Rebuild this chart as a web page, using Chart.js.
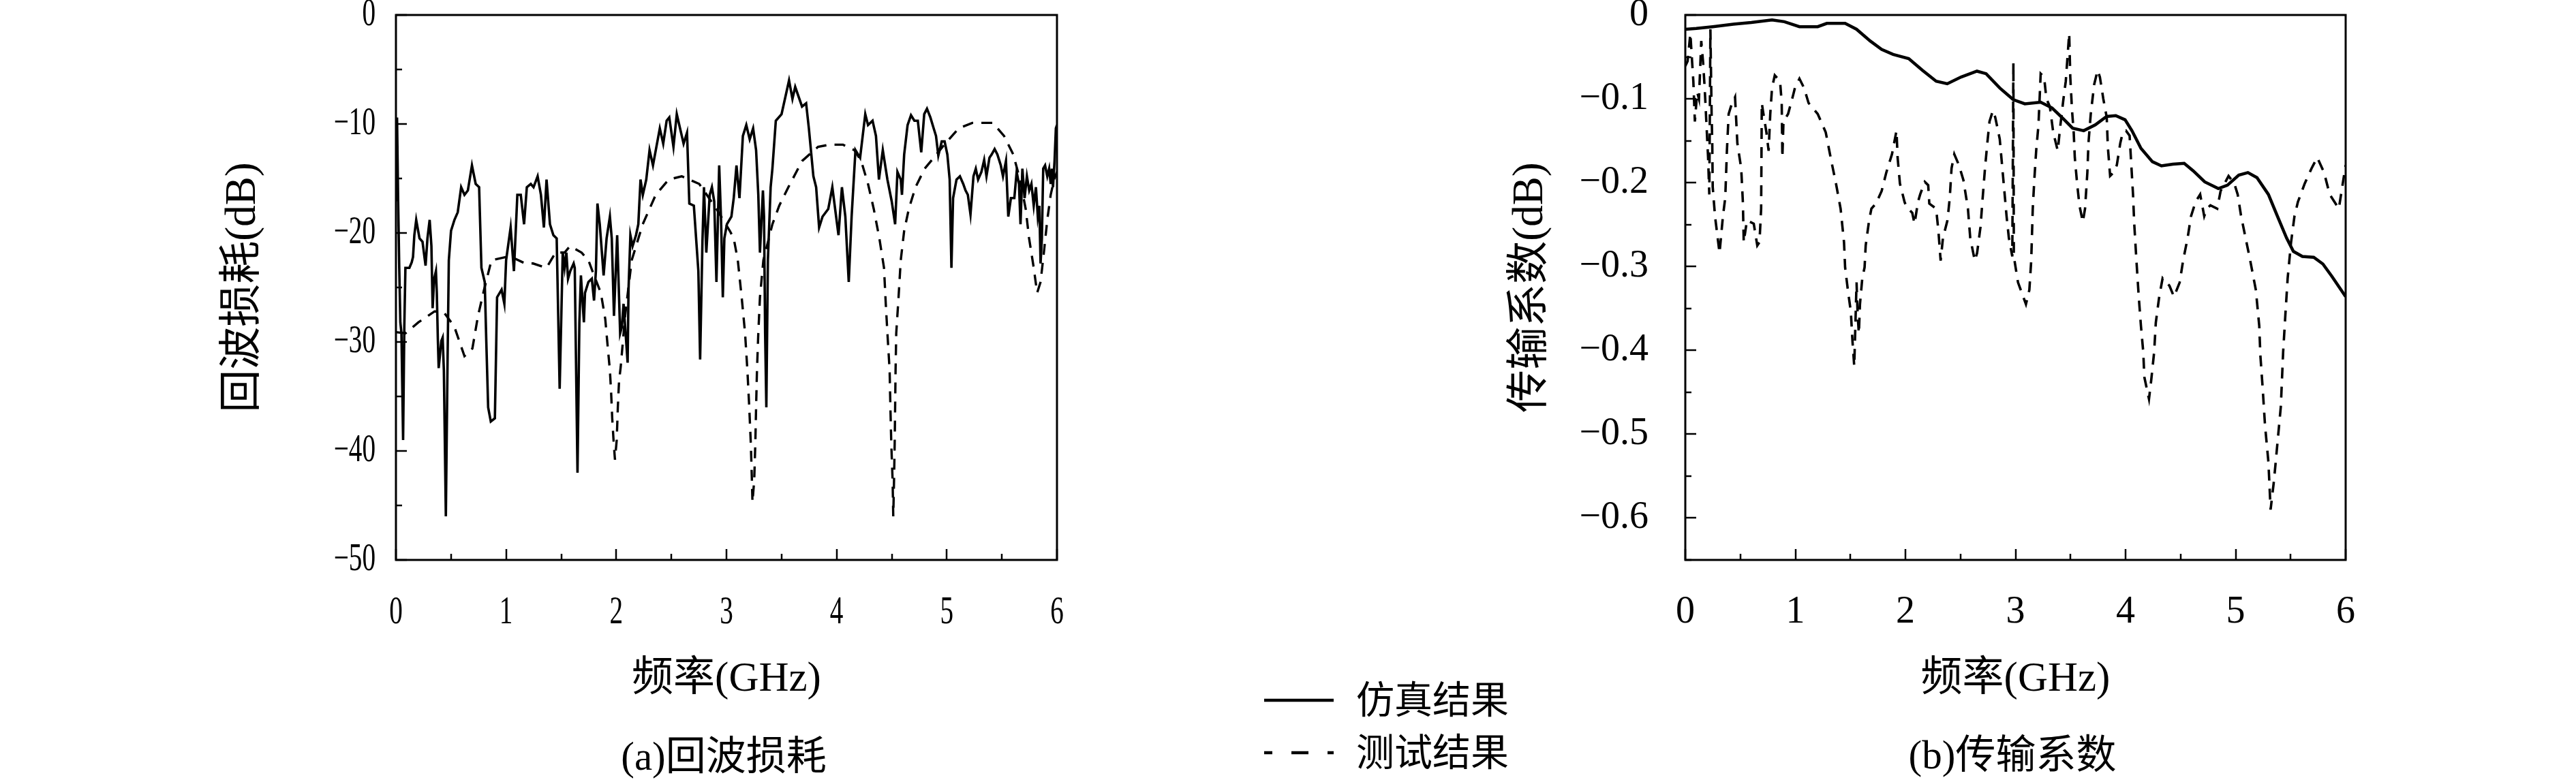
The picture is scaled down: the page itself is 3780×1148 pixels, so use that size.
<!DOCTYPE html>
<html><head><meta charset="utf-8">
<script src="https://cdn.jsdelivr.net/npm/chart.js@4.4.1/dist/chart.umd.min.js"></script>
<style>
html,body{margin:0;padding:0;background:#fff;}
body{width:3780px;height:1148px;position:relative;overflow:hidden;font-family:'Liberation Serif','Noto Sans CJK SC',serif;color:#000;}
.box{position:absolute;}
.txt{position:absolute;white-space:nowrap;font-size:59px;line-height:70px;height:70px;}
.cap{text-align:center;width:600px;}
</style></head><body>
<div class="box" style="left:0;top:0;width:1700px;height:1148px"><canvas id="c1" width="1700" height="1148"></canvas></div>
<div class="box" style="left:2050px;top:0;width:1550px;height:1148px"><canvas id="c2" width="1550" height="1148"></canvas></div>
<div class="txt cap" id="capA" style="left:762px;top:1075px"></div>
<div class="txt cap" id="capB" style="left:2653px;top:1073px"></div>
<svg class="box" style="left:1855px;top:1018px" width="104" height="20"><line x1="0" y1="10" x2="102" y2="10" stroke="#000" stroke-width="4.5"/></svg>
<svg class="box" style="left:1855px;top:1095px" width="104" height="20"><line x1="0" y1="10" x2="102" y2="10" stroke="#000" stroke-width="4.5" stroke-dasharray="25 28" stroke-dashoffset="13"/></svg>
<div class="txt" id="leg1" style="left:1990px;top:993px;font-size:56px"></div>
<div class="txt" id="leg2" style="left:1990px;top:1070px;font-size:56px"></div>
<script>
// ---------- data ----------
const legendLabels = ['仿真结果', '测试结果'];
const xTitle = '频率(GHz)';
const captions = ['(a)回波损耗', '(b)传输系数'];
const yTitles = ['回波损耗(dB)', '传输系数(dB)'];
const xTickLabels = ['0', '1', '2', '3', '4', '5', '6'];
const yTickLabelsA = ['0', '−10', '−20', '−30', '−40', '−50'];
const yTickLabelsB = ['0', '−0.1', '−0.2', '−0.3', '−0.4', '−0.5', '−0.6'];

// (a) return loss, simulated [GHz, dB]
const s11Simulated = [
[0,-17.1],[0.01,-9.4],[0.02,-17.1],[0.03,-23.2],[0.04,-28.2],[0.05,-29.2],[0.065,-39.0],[0.076,-28.6],[0.086,-23.2],[0.122,-23.2],
[0.143,-22.7],[0.155,-22.2],[0.167,-20.2],[0.184,-18.8],[0.214,-20.5],[0.241,-20.8],[0.269,-23.0],[0.286,-20.5],[0.306,-18.8],[0.322,-21.2],
[0.333,-26.9],[0.347,-24.2],[0.363,-23.5],[0.371,-25.5],[0.38,-29.6],[0.388,-32.4],[0.412,-29.9],[0.424,-29.6],[0.435,-32.6],[0.453,-46.0],
[0.469,-31.3],[0.48,-22.5],[0.5,-19.8],[0.531,-18.8],[0.561,-18.1],[0.592,-15.8],[0.622,-16.5],[0.653,-16.1],[0.69,-13.8],[0.724,-15.5],
[0.755,-15.8],[0.776,-23.2],[0.806,-24.5],[0.82,-29.9],[0.837,-36.0],[0.861,-37.3],[0.898,-37.0],[0.918,-25.9],[0.959,-25.2],[0.984,-26.5],
[1.0,-22.5],[1.041,-19.5],[1.071,-23.5],[1.102,-16.5],[1.133,-16.5],[1.163,-19.2],[1.188,-15.8],[1.224,-15.5],[1.249,-15.8],[1.286,-14.8],
[1.316,-16.5],[1.343,-19.5],[1.367,-15.1],[1.398,-19.2],[1.429,-20.2],[1.459,-20.5],[1.486,-34.3],[1.514,-21.8],[1.531,-23.2],[1.547,-21.8],
[1.562,-24.2],[1.582,-23.5],[1.613,-22.8],[1.623,-23.2],[1.648,-42.0],[1.665,-28.2],[1.679,-23.9],[1.706,-28.2],[1.716,-25.5],[1.747,-24.5],
[1.778,-24.2],[1.798,-26.2],[1.815,-23.5],[1.829,-17.3],[1.85,-19.2],[1.885,-23.9],[1.912,-20.5],[1.942,-18.5],[1.959,-20.5],[1.979,-27.6],
[2.008,-20.2],[2.035,-29.2],[2.051,-28.6],[2.066,-26.5],[2.103,-31.9],[2.111,-25.2],[2.128,-20.2],[2.148,-21.2],[2.179,-20.2],[2.2,-19.2],
[2.22,-15.1],[2.241,-16.5],[2.272,-15.1],[2.302,-12.4],[2.333,-13.8],[2.395,-10.4],[2.426,-11.8],[2.457,-9.7],[2.481,-9.4],[2.519,-12.1],
[2.549,-9.1],[2.611,-11.8],[2.642,-10.8],[2.663,-17.3],[2.704,-17.5],[2.745,-23.5],[2.761,-31.6],[2.782,-20.8],[2.796,-15.8],[2.817,-21.8],
[2.848,-16.5],[2.868,-15.8],[2.889,-17.1],[2.909,-24.5],[2.934,-13.8],[2.951,-18.8],[2.967,-25.9],[2.981,-20.5],[3.004,-19.2],[3.045,-18.5],
[3.066,-16.8],[3.091,-13.8],[3.118,-16.8],[3.149,-11.1],[3.18,-10.1],[3.211,-11.4],[3.242,-10.4],[3.269,-12.4],[3.289,-16.5],[3.304,-21.8],
[3.331,-16.1],[3.341,-18.5],[3.351,-29.2],[3.362,-36.0],[3.376,-22.5],[3.401,-15.8],[3.417,-14.1],[3.448,-9.7],[3.5,-9.1],[3.568,-6.0],
[3.599,-7.7],[3.624,-6.6],[3.686,-8.4],[3.723,-8.1],[3.748,-10.4],[3.789,-14.8],[3.814,-15.8],[3.841,-19.5],[3.872,-18.5],[3.924,-17.8],
[3.961,-15.8],[4.017,-20.2],[4.048,-15.8],[4.079,-18.5],[4.11,-24.5],[4.136,-18.5],[4.171,-12.4],[4.213,-13.1],[4.26,-9.1],[4.285,-10.1],
[4.326,-9.7],[4.357,-11.1],[4.384,-15.1],[4.419,-12.4],[4.461,-15.1],[4.5,-17.1],[4.531,-19.2],[4.552,-14.4],[4.582,-15.1],[4.593,-16.5],
[4.613,-12.8],[4.644,-10.1],[4.675,-9.2],[4.706,-9.7],[4.737,-9.7],[4.768,-12.6],[4.795,-9.1],[4.82,-8.6],[4.851,-9.4],[4.881,-10.4],
[4.902,-11.1],[4.923,-12.9],[4.954,-11.6],[4.98,-11.6],[5.005,-12.8],[5.026,-15.1],[5.042,-23.2],[5.057,-16.8],[5.088,-15.1],[5.119,-14.8],
[5.149,-15.5],[5.17,-16.1],[5.191,-16.5],[5.215,-18.3],[5.242,-14.8],[5.263,-14.1],[5.284,-15.1],[5.314,-14.4],[5.339,-13.3],[5.36,-14.8],
[5.387,-13.1],[5.407,-12.8],[5.434,-12.3],[5.459,-12.8],[5.49,-13.8],[5.51,-14.8],[5.537,-13.4],[5.558,-18.5],[5.582,-16.8],[5.613,-16.8],
[5.634,-14.4],[5.655,-15.5],[5.669,-19.2],[5.686,-14.1],[5.706,-16.8],[5.727,-14.8],[5.748,-16.1],[5.768,-15.5],[5.789,-17.5],[5.809,-15.8],
[5.826,-18.5],[5.84,-17.5],[5.851,-22.8],[5.863,-20.5],[5.875,-14.1],[5.892,-13.8],[5.912,-14.8],[5.929,-14.1],[5.943,-15.5],[5.954,-14.1],
[5.964,-15.8],[5.978,-13.4],[5.99,-10.4],[6.0,-10.1]
];

// (a) return loss, measured [GHz, dB]
const s11Measured = [
[0,-29.1],[0.087,-29.2],[0.204,-28.2],[0.35,-27.2],[0.43,-27.2],[0.53,-28.6],[0.622,-31.3],[0.694,-30.6],[0.745,-27.6],[0.8,-25.2],
[0.867,-22.5],[1.0,-22.2],[1.05,-22.2],[1.173,-22.8],[1.245,-22.8],[1.367,-23.2],[1.449,-21.8],[1.531,-21.8],[1.58,-21.2],[1.685,-21.8],
[1.747,-22.5],[1.798,-23.9],[1.86,-25.5],[1.9,-27.9],[1.92,-30.2],[1.942,-32.6],[1.953,-34.6],[1.963,-37.0],[1.975,-39.0],[1.988,-40.8],
[2.004,-39.0],[2.014,-36.0],[2.025,-33.6],[2.04,-32.3],[2.08,-27.6],[2.14,-22.5],[2.24,-19.2],[2.358,-16.5],[2.476,-15.1],[2.594,-14.8],
[2.753,-15.5],[2.91,-17.8],[3.03,-19.8],[3.066,-20.5],[3.103,-22.5],[3.138,-25.9],[3.169,-29.2],[3.19,-32.6],[3.207,-36.0],[3.221,-39.3],
[3.231,-42.7],[3.236,-44.7],[3.252,-42.7],[3.262,-39.3],[3.269,-36.0],[3.277,-32.6],[3.289,-29.2],[3.304,-25.9],[3.335,-22.5],[3.417,-19.2],
[3.479,-17.5],[3.562,-15.8],[3.686,-13.4],[3.831,-12.1],[3.934,-11.9],[4.058,-11.9],[4.161,-12.4],[4.223,-13.4],[4.285,-15.5],[4.337,-17.8],
[4.388,-20.5],[4.43,-23.2],[4.446,-26.5],[4.461,-29.2],[4.481,-32.6],[4.488,-36.0],[4.496,-39.3],[4.508,-42.7],[4.514,-46.0],[4.521,-42.7],
[4.527,-39.3],[4.531,-36.0],[4.535,-32.6],[4.541,-29.2],[4.562,-25.9],[4.582,-22.5],[4.613,-19.8],[4.655,-17.8],[4.716,-15.8],[4.799,-14.1],
[4.881,-13.1],[4.985,-11.8],[5.108,-10.4],[5.232,-9.9],[5.418,-9.9],[5.52,-11.1],[5.603,-12.8],[5.665,-15.1],[5.716,-17.8],[5.747,-20.5],
[5.789,-23.2],[5.82,-25.5],[5.851,-24.5],[5.881,-21.8],[5.912,-18.8],[5.943,-16.5],[5.974,-15.1],[6.0,-14.4]
];

// (b) transmission, simulated [GHz, dB]
const s21Simulated = [
[0,-0.017],[0.1,-0.016],[0.249,-0.014],[0.436,-0.011],[0.6,-0.009],[0.788,-0.006],[0.9,-0.008],[1.037,-0.014],[1.203,-0.014],[1.286,-0.010],
[1.452,-0.010],[1.556,-0.017],[1.68,-0.031],[1.784,-0.041],[1.888,-0.047],[2.03,-0.052],[2.155,-0.066],[2.279,-0.079],[2.38,-0.082],[2.506,-0.074],
[2.65,-0.067],[2.733,-0.070],[2.857,-0.087],[2.98,-0.101],[3.085,-0.106],[3.229,-0.104],[3.333,-0.111],[3.436,-0.124],[3.519,-0.135],[3.62,-0.138],
[3.725,-0.131],[3.828,-0.121],[3.911,-0.120],[3.996,-0.125],[4.058,-0.138],[4.14,-0.159],[4.244,-0.175],[4.326,-0.180],[4.43,-0.178],[4.533,-0.177],
[4.616,-0.186],[4.719,-0.199],[4.843,-0.207],[4.926,-0.203],[5.029,-0.191],[5.112,-0.188],[5.194,-0.194],[5.298,-0.214],[5.38,-0.240],[5.463,-0.266],
[5.525,-0.282],[5.607,-0.288],[5.71,-0.289],[5.793,-0.297],[5.876,-0.312],[5.959,-0.328],[6.0,-0.336]
];

// (b) transmission, measured [GHz, dB]
const s21Measured = [
[0,-0.061],[0.021,-0.055],[0.046,-0.022],[0.058,-0.048],[0.073,-0.079],[0.087,-0.127],[0.108,-0.092],[0.124,-0.100],[0.145,-0.031],[0.162,-0.057],
[0.176,-0.087],[0.191,-0.127],[0.207,-0.170],[0.218,-0.214],[0.228,-0.017],[0.239,-0.118],[0.245,-0.153],[0.249,-0.205],[0.27,-0.240],[0.311,-0.284],
[0.342,-0.240],[0.363,-0.218],[0.378,-0.162],[0.394,-0.118],[0.415,-0.109],[0.452,-0.098],[0.473,-0.153],[0.508,-0.183],[0.523,-0.223],[0.531,-0.271],
[0.56,-0.245],[0.622,-0.249],[0.654,-0.275],[0.674,-0.271],[0.689,-0.231],[0.692,-0.170],[0.695,-0.105],[0.705,-0.114],[0.737,-0.140],[0.757,-0.162],
[0.772,-0.118],[0.788,-0.087],[0.813,-0.072],[0.861,-0.079],[0.876,-0.105],[0.882,-0.170],[0.892,-0.127],[0.934,-0.118],[0.979,-0.096],[0.996,-0.087],
[1.037,-0.076],[1.079,-0.087],[1.12,-0.105],[1.203,-0.118],[1.276,-0.140],[1.328,-0.175],[1.369,-0.201],[1.411,-0.231],[1.442,-0.271],[1.452,-0.301],
[1.477,-0.328],[1.504,-0.354],[1.519,-0.389],[1.535,-0.419],[1.556,-0.319],[1.566,-0.358],[1.577,-0.380],[1.587,-0.345],[1.608,-0.314],[1.629,-0.301],
[1.639,-0.275],[1.67,-0.245],[1.691,-0.231],[1.732,-0.225],[1.784,-0.210],[1.826,-0.188],[1.878,-0.166],[1.919,-0.138],[1.929,-0.170],[1.95,-0.201],
[1.992,-0.223],[2.01,-0.229],[2.062,-0.236],[2.083,-0.249],[2.114,-0.223],[2.134,-0.214],[2.176,-0.199],[2.207,-0.203],[2.217,-0.225],[2.279,-0.231],
[2.3,-0.258],[2.32,-0.293],[2.341,-0.266],[2.382,-0.245],[2.403,-0.218],[2.419,-0.183],[2.444,-0.166],[2.486,-0.179],[2.527,-0.197],[2.568,-0.231],
[2.589,-0.266],[2.63,-0.293],[2.651,-0.284],[2.682,-0.253],[2.702,-0.218],[2.723,-0.183],[2.744,-0.153],[2.764,-0.127],[2.795,-0.114],[2.816,-0.122],
[2.857,-0.148],[2.878,-0.179],[2.899,-0.210],[2.919,-0.240],[2.94,-0.266],[2.971,-0.288],[2.981,-0.057],[2.985,-0.288],[3.023,-0.319],[3.095,-0.345],
[3.126,-0.328],[3.143,-0.293],[3.157,-0.231],[3.171,-0.197],[3.188,-0.162],[3.209,-0.131],[3.229,-0.070],[3.26,-0.074],[3.281,-0.100],[3.312,-0.109],
[3.343,-0.140],[3.384,-0.162],[3.405,-0.135],[3.436,-0.100],[3.457,-0.079],[3.488,-0.022],[3.498,-0.074],[3.514,-0.114],[3.529,-0.140],[3.539,-0.170],
[3.56,-0.201],[3.581,-0.227],[3.612,-0.247],[3.632,-0.231],[3.653,-0.188],[3.663,-0.153],[3.684,-0.118],[3.715,-0.083],[3.746,-0.066],[3.767,-0.074],
[3.798,-0.100],[3.829,-0.122],[3.839,-0.157],[3.86,-0.192],[3.891,-0.188],[3.921,-0.179],[3.952,-0.153],[3.975,-0.140],[4.004,-0.138],[4.037,-0.144],
[4.068,-0.214],[4.079,-0.249],[4.099,-0.293],[4.12,-0.336],[4.14,-0.371],[4.161,-0.402],[4.171,-0.432],[4.213,-0.458],[4.233,-0.436],[4.26,-0.402],
[4.275,-0.367],[4.306,-0.336],[4.337,-0.314],[4.399,-0.323],[4.44,-0.336],[4.492,-0.319],[4.523,-0.293],[4.564,-0.266],[4.595,-0.240],[4.636,-0.223],
[4.678,-0.214],[4.715,-0.240],[4.74,-0.231],[4.771,-0.227],[4.833,-0.231],[4.864,-0.210],[4.936,-0.192],[4.988,-0.201],[5.019,-0.214],[5.05,-0.240],
[5.091,-0.266],[5.133,-0.293],[5.184,-0.328],[5.215,-0.371],[5.225,-0.406],[5.246,-0.445],[5.267,-0.489],[5.298,-0.533],[5.318,-0.590],[5.349,-0.555],
[5.38,-0.511],[5.411,-0.467],[5.432,-0.402],[5.452,-0.358],[5.473,-0.314],[5.504,-0.271],[5.535,-0.240],[5.566,-0.223],[5.628,-0.201],[5.69,-0.183],
[5.742,-0.170],[5.804,-0.188],[5.855,-0.214],[5.938,-0.231],[5.969,-0.205],[6.0,-0.179]
];

// ---------- rendering ----------
const FONT = "'Liberation Serif', 'Noto Sans CJK SC', serif";
document.getElementById('capA').textContent = captions[0];
document.getElementById('capB').textContent = captions[1];
document.getElementById('leg1').textContent = legendLabels[0];
document.getElementById('leg2').textContent = legendLabels[1];

const toXY = arr => arr.map(p => ({x: p[0], y: p[1]}));

// inward tick marks, frame, and (optionally) horizontally condensed tick labels
const inwardTicks = {
  id: 'inwardTicks',
  afterDatasetsDraw(chart, args, opts) {
    const {ctx, chartArea: a, scales: {x, y}} = chart;
    ctx.save();
    ctx.strokeStyle = '#000';
    ctx.lineWidth = 2.5;
    ctx.beginPath();
    x.ticks.forEach(t => {
      const px = Math.round(x.getPixelForValue(t.value));
      const len = (t.label !== '' ? 16 : 9);
      ctx.moveTo(px, a.bottom); ctx.lineTo(px, a.bottom - len);
    });
    y.ticks.forEach(t => {
      const py = Math.round(y.getPixelForValue(t.value));
      const len = (t.label !== '' ? 16 : 9);
      ctx.moveTo(a.left, py); ctx.lineTo(a.left + len, py);
    });
    ctx.stroke();
    ctx.lineWidth = 3;
    ctx.strokeRect(a.left, a.top, a.right - a.left, a.bottom - a.top);

    if (opts && opts.condense) {
      ctx.fillStyle = '#000';
      ctx.font = '56px ' + FONT;
      ctx.textBaseline = 'middle';
      ctx.textAlign = 'center';
      x.ticks.forEach(t => {
        if (!t.label) return;
        ctx.save();
        ctx.translate(x.getPixelForValue(t.value), a.bottom + opts.xGap);
        ctx.scale(opts.condense, 1);
        ctx.fillText(t.label, 0, 0);
        ctx.restore();
      });
      ctx.textAlign = 'right';
      y.ticks.forEach(t => {
        if (!t.label) return;
        ctx.save();
        ctx.translate(a.left - opts.yGap, y.getPixelForValue(t.value));
        ctx.scale(opts.condense, 1);
        ctx.fillText(t.label, 0, 0);
        ctx.restore();
      });
    }
    ctx.restore();
  }
};

function buildChart(id, p) {
  const tickColor = p.condense ? 'rgba(0,0,0,0)' : '#000';
  return new Chart(document.getElementById(id), {
    type: 'line',
    data: { datasets: [
      { label: legendLabels[0], data: toXY(p.sim), borderColor: '#000', borderWidth: p.simWidth,
        pointRadius: 0, tension: 0, fill: false },
      { label: legendLabels[1], data: toXY(p.meas), borderColor: '#000', borderWidth: p.measWidth, borderDash: [16, 12],
        pointRadius: 0, tension: 0, fill: false }
    ]},
    options: {
      responsive: false, animation: false, devicePixelRatio: 1,
      layout: { padding: { left: 0, top: 22, right: p.padRight, bottom: 0 } },
      plugins: {
        legend: { display: false }, tooltip: { enabled: false },
        inwardTicks: p.condense ? { condense: p.condense, xGap: 78, yGap: 30 } : {}
      },
      scales: {
        x: {
          type: 'linear', min: 0, max: 6,
          afterFit(s) { s.height = 326; s.paddingLeft = 0; s.paddingRight = 0; s.paddingTop = 0; s.paddingBottom = 0; },
          grid: { display: false, drawTicks: false }, border: { display: false },
          ticks: {
            stepSize: 0.5, autoSkip: false, maxRotation: 0, padding: 44, color: tickColor,
            font: { family: FONT, size: 56 },
            callback: v => (Math.abs(v - Math.round(v)) < 1e-6 ? xTickLabels[Math.round(v)] : '')
          },
          title: { display: true, text: xTitle, color: '#000', font: { family: FONT, size: 61 },
                   padding: { top: 0, bottom: 113 } }
        },
        y: {
          type: 'linear', min: p.yMin, max: 0,
          afterFit(s) { s.width = p.yWidth; s.paddingLeft = 0; s.paddingRight = 0; s.paddingTop = 0; s.paddingBottom = 0; },
          grid: { display: false, drawTicks: false }, border: { display: false },
          ticks: {
            stepSize: p.yStep, autoSkip: false, padding: p.yPad, color: tickColor,
            font: { family: FONT, size: 56 },
            callback: p.yLabel
          },
          title: { display: true, text: p.yTitle, color: '#000', font: { family: FONT, size: 63 },
                   padding: { top: p.yTitlePad, bottom: 0 } }
        }
      }
    },
    plugins: [inwardTicks]
  });
}

buildChart('c1', {
  sim: s11Simulated, meas: s11Measured, simWidth: 3.6, measWidth: 3.4, condense: 0.7,
  padRight: 149, yWidth: 581, yMin: -50, yStep: 5, yPad: 30, yTitle: yTitles[0], yTitlePad: 320,
  yLabel: v => { const r = Math.round(v); return (r % 10 === 0) ? yTickLabelsA[Math.abs(r) / 10] : ''; }
});
buildChart('c2', {
  sim: s21Simulated, meas: s21Measured, simWidth: 4.5, measWidth: 3.6, condense: 0,
  padRight: 158, yWidth: 423, yMin: -0.65, yStep: 0.05, yPad: 54, yTitle: yTitles[1], yTitlePad: 159,
  yLabel: v => { const r = Math.round(v * 100); return (r % 10 === 0) ? yTickLabelsB[Math.abs(r) / 10] : ''; }
});
</script>
</body></html>
